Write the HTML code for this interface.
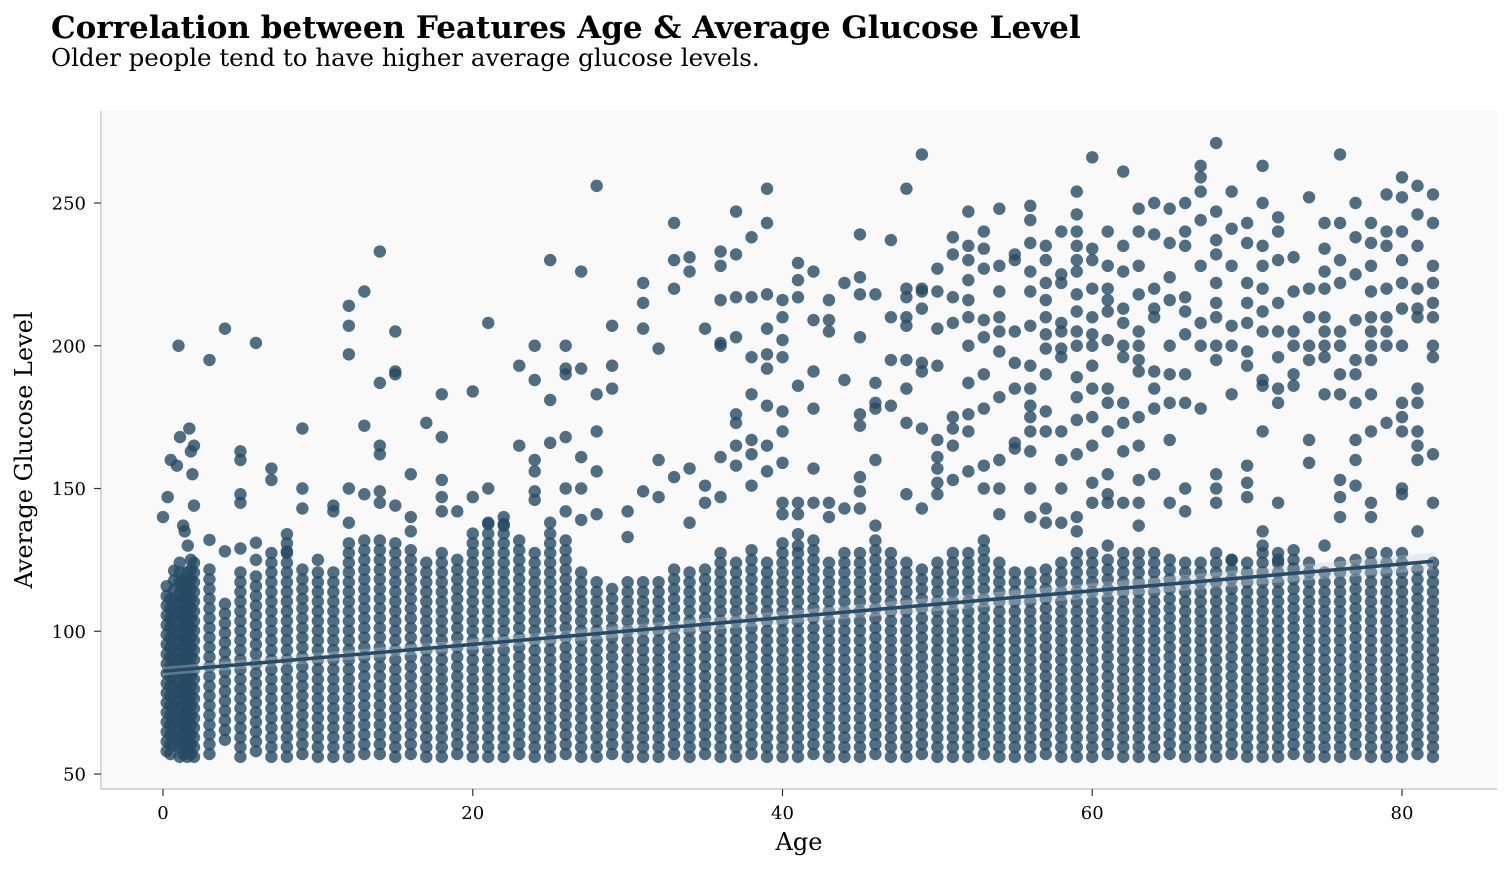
<!DOCTYPE html>
<html><head><meta charset="utf-8">
<style>
html,body{margin:0;padding:0;background:#fff;}
svg{display:block;font-family:"DejaVu Serif","Liberation Serif",serif;}
</style></head>
<body>
<svg id="chart" width="1511" height="870" viewBox="0 0 1511 870" xmlns="http://www.w3.org/2000/svg">
<text x="51" y="38" font-size="31" font-weight="bold" fill="#000">Correlation between Features Age &amp; Average Glucose Level</text>
<text x="51" y="66" font-size="24.5" fill="#000">Older people tend to have higher average glucose levels.</text>
<rect x="101" y="111" width="1396" height="678" fill="#f9f9f9"/>
<g id="marks"></g>
<line x1="101" y1="111" x2="101" y2="789" stroke="#ccc" stroke-width="1.5"/>
<line x1="101" y1="789" x2="1497" y2="789" stroke="#ccc" stroke-width="1.5"/>
<g id="axes"></g>
<text x="799" y="850" font-size="24" text-anchor="middle">Age</text>
<text transform="translate(32,450) rotate(-90)" font-size="24" text-anchor="middle">Average Glucose Level</text>
</svg>
<script>
const xTicks = [0,20,40,60,80];
const yTicks = [50,100,150,200,250];
const bandAges = [0.24,0.48,0.72,1.08,1.32,1.56,1.8,2,3,4,5,6,7,8,9,10,11,12,13,14,15,16,17,18,19,20,21,22,23,24,25,26,27,28,29,30,31,32,33,34,35,36,37,38,39,40,41,42,43,44,45,46,47,48,49,50,51,52,53,54,55,56,57,58,59,60,61,62,63,64,65,66,67,68,69,70,71,72,73,74,75,76,77,78,79,80,81,82];
const bandHigh = [118,112,122,126,120,124,128,125,124,112,122,120,128,134,125,124,124,132,134,135,133,130,127,130,126,136,138,140,133,130,135,132,124,120,118,119,120,118,122,124,124,128,127,130,127,133,128,132,125,130,128,132,128,125,124,127,130,128,132,126,122,124,125,127,128,128,126,130,129,130,128,125,127,130,126,125,128,129,130,126,124,126,128,130,130,128,125,126,125,124];
const bandLow = [58,57,60,56,57,56,57,56,57,62,56,58,56,56,57,56,56,56,57,57,56,57,56,56,57,56,56,56,57,56,56,57,56,56,57,56,56,56,57,56,57,56,56,57,56,56,56,57,56,56,56,57,56,56,57,56,56,56,57,56,56,56,57,56,56,56,57,56,56,56,57,56,56,56,57,56,56,56,57,56,56,56,57,56,56,56,57,56,56,56];
const outlierAges = [0,0.3,0.5,0.9,1.1,1.3,1,1.7,2,1.9,1.8,2,1.6,1.4,
3,3,4,4,5,5,5,5,5,6,6,6,7,7,8,8,9,9,9,10,11,11,12,12,12,12,12,13,13,13,14,14,14,14,14,14,15,15,15,15,16,16,16,17,18,18,18,18,18,19,20,20,21,21,21,22,22,23,23,24,24,24,24,24,24,25,25,25,25,26,26,26,26,26,26,27,27,27,27,27,28,28,28,28,28,29,29,29,30,30,31,31,31,31,32,32,32,33,33,33,33,34,34,34,34,35,35,35,36,36,36,36,36,36,36,37,37,37,37,37,37,37,37,38,38,38,38,38,38,38,39,39,39,39,39,39,39,39,39,40,40,40,40,40,40,40,40,40,41,41,41,41,41,41,41,41,42,42,42,42,42,42,43,43,43,43,43,44,44,44,45,45,45,45,45,45,45,45,45,46,46,46,46,46,46,47,47,47,47,48,48,48,48,48,48,48,48,48,49,49,49,49,49,49,49,49,50,50,50,50,50,50,50,50,50,51,51,51,51,51,51,51,51,52,52,52,52,52,52,52,52,52,52,52,53,53,53,53,53,53,53,53,53,54,54,54,54,54,54,54,54,54,54,55,55,55,55,55,55,55,56,56,56,56,56,56,56,56,56,56,56,56,56,56,57,57,57,57,57,57,57,57,57,57,57,57,58,58,58,58,58,58,58,58,58,58,58,59,59,59,59,59,59,59,59,59,59,59,59,59,59,59,59,60,60,60,60,60,60,60,60,60,60,60,60,60,61,61,61,61,61,61,61,61,61,61,61,61,61,62,62,62,62,62,62,62,62,62,62,62,63,63,63,63,63,63,63,63,63,63,63,63,63,64,64,64,64,64,64,64,64,64,65,65,65,65,65,65,65,65,65,66,66,66,66,66,66,66,66,66,66,67,67,67,67,67,67,67,67,68,68,68,68,68,68,68,68,68,68,68,68,69,69,69,69,69,69,69,70,70,70,70,70,70,70,70,70,70,71,71,71,71,71,71,71,71,71,71,71,71,72,72,72,72,72,72,72,72,72,72,73,73,73,73,73,73,73,74,74,74,74,74,74,74,75,75,75,75,75,75,75,75,75,75,76,76,76,76,76,76,76,76,76,76,76,77,77,77,77,77,77,77,77,77,77,78,78,78,78,78,78,78,78,78,78,78,78,79,79,79,79,79,79,79,79,80,80,80,80,80,80,80,80,80,80,80,80,81,81,81,81,81,81,81,81,81,81,81,81,82,82,82,82,82,82,82,82,82,82];
const outlierGlucose = [140,147,160,158,168,137,200,171,165,155,163,144,130,135,
195,132,206,128,163,160,148,145,129,201,131,125,157,153,134,128,171,150,143,125,144,142,214,207,197,150,138,219,172,148,233,187,165,162,149,145,205,191,190,144,155,140,135,173,183,168,153,147,142,142,184,147,208,150,138,140,137,193,165,200,188,160,156,149,146,230,181,166,138,200,192,190,168,150,142,226,192,161,150,139,256,183,170,156,141,207,193,185,142,133,222,215,206,149,199,160,147,243,230,220,154,231,226,157,138,206,151,145,233,228,216,201,200,161,147,247,232,217,203,176,173,165,158,238,217,196,183,167,162,151,255,243,218,206,197,192,179,165,156,216,210,202,196,177,170,159,145,141,229,223,217,186,145,141,134,130,226,209,191,178,157,145,216,209,205,145,140,222,188,143,239,224,218,203,176,172,154,149,143,218,187,180,178,160,137,237,210,195,179,255,220,217,210,207,195,185,173,148,267,220,219,213,194,191,171,143,227,219,206,193,167,161,157,152,148,238,232,217,208,175,171,165,153,247,235,230,223,216,210,200,187,176,170,156,240,234,227,209,203,190,178,158,150,248,228,219,210,205,198,182,160,150,141,232,230,205,194,185,166,164,249,244,236,226,219,207,193,185,179,175,170,163,150,140,235,230,222,216,210,204,199,190,177,170,143,138,240,225,222,208,205,199,196,170,160,150,138,254,246,240,235,230,226,218,212,205,200,189,182,174,162,140,135,266,234,230,220,210,204,200,193,185,175,165,152,145,240,228,220,216,212,202,185,180,170,155,148,145,130,261,235,226,213,208,200,196,180,173,163,145,248,240,228,218,205,200,195,191,175,165,153,145,137,250,239,220,213,210,191,185,178,155,248,236,224,216,200,190,180,167,145,250,240,235,217,212,204,190,180,150,142,263,259,254,244,228,208,200,178,271,247,237,232,222,215,210,200,195,155,150,145,254,241,228,207,200,183,125,243,236,222,215,208,198,193,158,152,147,263,250,235,228,220,212,205,188,186,170,135,130,245,240,230,215,205,196,185,180,145,125,231,219,205,200,190,186,122,252,220,210,200,195,167,159,243,234,226,220,210,205,200,196,183,130,267,243,230,222,205,200,190,183,153,147,140,250,238,225,209,195,190,180,167,160,151,243,236,228,219,210,205,200,195,183,170,145,140,253,240,235,220,210,205,200,173,259,252,240,230,222,213,200,180,175,170,150,148,256,246,235,220,213,210,185,180,170,165,160,135,253,243,228,222,215,210,200,196,162,145];
const regAges = [0,82];
const regValues = [86,124.5];
const regCIHalf = [1.5,3];

const NS = 'http://www.w3.org/2000/svg';
const xS = v => 163 + (v - 0) * (1402 - 163) / 80;
const yS = v => 774 - (v - 50) * (774 - 203) / 200;
const marks = document.getElementById('marks');
const axes = document.getElementById('axes');
function mk(tag, attrs, parent){const e=document.createElementNS(NS,tag);for(const k in attrs)e.setAttribute(k,attrs[k]);parent.appendChild(e);return e;}

for (let i=0;i<bandAges.length;i++){
  for (let g=bandLow[i]; g<=bandHigh[i]; g+=3.4){
    const c = mk('circle',{cx:xS(bandAges[i]),cy:yS(g),r:6.2,fill:'#264a63','fill-opacity':0.8},marks);
    
    
  }
}
for (let i=0;i<outlierAges.length;i++){
  const c = mk('circle',{cx:xS(outlierAges[i]),cy:yS(outlierGlucose[i]),r:6.2,fill:'#264a63','fill-opacity':0.8},marks);
  
  
}
const ci = mk('polygon',{points:[
  xS(regAges[0])+','+yS(regValues[0]+regCIHalf[0]),
  xS(regAges[1])+','+yS(regValues[1]+regCIHalf[1]),
  xS(regAges[1])+','+yS(regValues[1]-regCIHalf[1]),
  xS(regAges[0])+','+yS(regValues[0]-regCIHalf[0])].join(' '),fill:'#c8d0d8','fill-opacity':0.35},marks);


const rl = mk('line',{x1:xS(regAges[0]),y1:yS(regValues[0]),x2:xS(regAges[1]),y2:yS(regValues[1]),stroke:'#264a63','stroke-width':3.5},marks);



xTicks.forEach(t=>{
  const l = mk('line',{x1:xS(t),y1:789,x2:xS(t),y2:796,stroke:'#333','stroke-width':1.2},axes);
  
  
  const tx = mk('text',{x:xS(t),y:819,'font-size':18,'text-anchor':'middle',fill:'#000'},axes);
  tx.textContent = t;
  
  
});
yTicks.forEach(t=>{
  const l = mk('line',{x1:94,y1:yS(t),x2:101,y2:yS(t),stroke:'#333','stroke-width':1.2},axes);
  
  
  const tx = mk('text',{x:86,y:yS(t)+6.5,'font-size':18,'text-anchor':'end',fill:'#000'},axes);
  tx.textContent = t;
  
  
});
</script>
</body></html>
